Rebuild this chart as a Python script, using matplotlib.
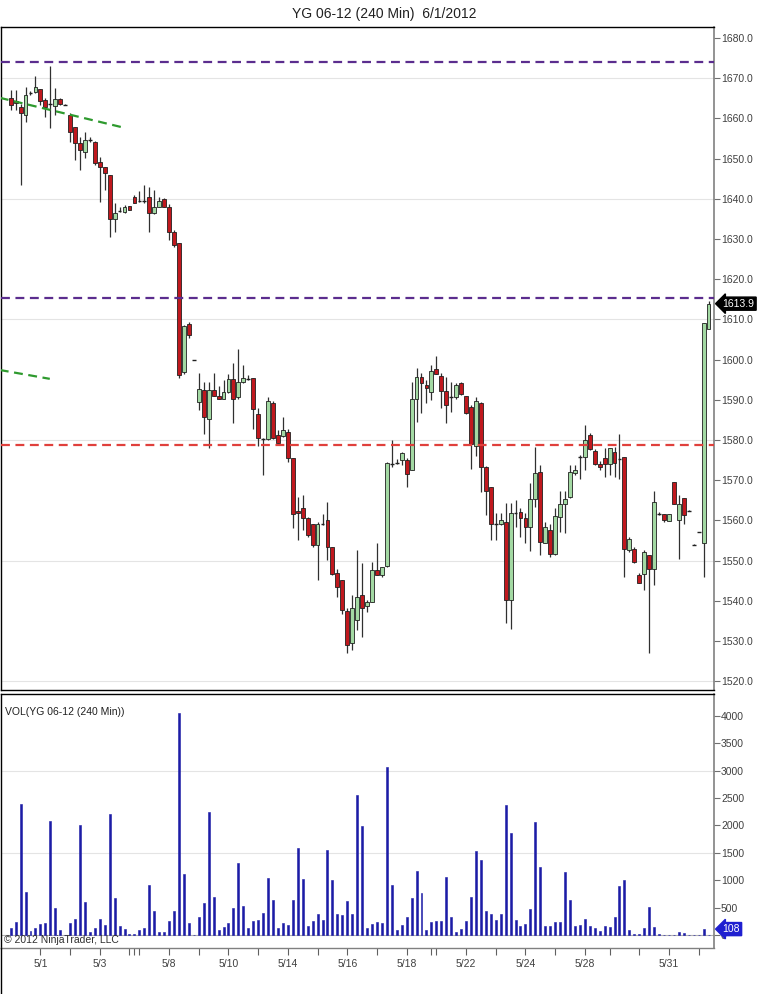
import matplotlib
matplotlib.use('Agg')
import matplotlib.pyplot as plt
from matplotlib.transforms import blended_transform_factory

plt.rcParams['font.family'] = ['Liberation Sans', 'DejaVu Sans']

title = 'YG 06-12 (240 Min)  6/1/2012'

# open, high, low, close for each 240 min bar
opens = [1665.0, 1664.2, 1662.9, 1660.8, 1666.2, 1666.6, 1667.3, 1664.6, 1663.6, 1663.1,
         1664.7, 1663.4, 1660.8, 1657.9, 1653.8, 1651.7, 1654.6, 1654.2, 1649.2, 1648.0,
         1645.9, 1634.9, 1637.0, 1636.8, 1638.2, 1640.5, 1639.5, 1639.4, 1640.4, 1636.4,
         1638.0, 1639.9, 1638.0, 1631.8, 1628.9, 1597.0, 1608.8, 1599.9, 1589.5, 1592.4,
         1585.1, 1592.4, 1590.9, 1590.3, 1592.0, 1595.1, 1590.6, 1594.3, 1595.2, 1595.3,
         1586.4, 1580.3, 1580.2, 1589.3, 1581.2, 1581.0, 1582.0, 1575.4, 1562.3, 1563.0,
         1560.7, 1559.1, 1553.8, 1559.2, 1560.1, 1553.4, 1546.8, 1545.1, 1537.5, 1529.4,
         1535.2, 1541.4, 1538.7, 1539.7, 1547.6, 1546.4, 1548.7, 1574.0, 1574.2, 1575.0,
         1575.0, 1572.5, 1590.3, 1595.6, 1593.7, 1592.0, 1597.6, 1595.9, 1592.2, 1590.6,
         1590.6, 1594.1, 1590.9, 1588.3, 1578.5, 1589.3, 1573.3, 1568.2, 1559.1, 1559.1,
         1559.7, 1540.2, 1561.9, 1562.1, 1560.5, 1558.4, 1565.2, 1572.1, 1554.4, 1557.6,
         1551.6, 1560.9, 1564.1, 1565.7, 1571.7, 1575.7, 1575.7, 1581.2, 1577.3, 1574.0,
         1575.4, 1574.0, 1577.1, 1575.2, 1575.7, 1552.6, 1553.0, 1546.4, 1546.6, 1551.4,
         1548.0, 1561.6, 1561.6, 1559.9, 1569.6, 1560.1, 1565.5, 1562.4, 1553.9, 1557.1,
         1554.3, 1607.5]
highs = [1667.1, 1667.1, 1663.6, 1667.7, 1666.9, 1670.5, 1667.3, 1665.0, 1672.9, 1667.5,
         1665.0, 1663.6, 1661.2, 1657.9, 1655.3, 1656.7, 1655.3, 1654.4, 1650.5, 1648.0,
         1646.0, 1639.0, 1638.0, 1638.4, 1638.3, 1640.9, 1641.8, 1643.4, 1642.9, 1642.2,
         1640.4, 1640.1, 1638.8, 1632.2, 1629.1, 1608.5, 1609.4, 1600.0, 1596.6, 1594.5,
         1594.5, 1596.6, 1593.3, 1594.9, 1596.4, 1599.2, 1602.5, 1598.6, 1596.1, 1595.3,
         1587.9, 1580.6, 1590.7, 1589.8, 1582.5, 1585.8, 1582.6, 1575.4, 1565.9, 1566.3,
         1560.9, 1559.2, 1559.7, 1561.7, 1564.6, 1553.4, 1548.0, 1545.1, 1538.1, 1541.4,
         1552.6, 1549.3, 1540.2, 1549.7, 1554.3, 1548.5, 1574.4, 1580.0, 1575.2, 1577.1,
         1575.4, 1594.5, 1597.8, 1596.6, 1594.9, 1598.6, 1600.9, 1596.6, 1595.7, 1594.5,
         1594.2, 1594.5, 1590.9, 1588.7, 1590.6, 1589.5, 1573.5, 1568.2, 1561.9, 1561.9,
         1564.2, 1564.2, 1565.0, 1563.0, 1561.9, 1569.2, 1578.2, 1573.8, 1559.7, 1559.2,
         1563.0, 1567.4, 1567.4, 1573.8, 1573.8, 1576.2, 1583.7, 1581.8, 1577.7, 1574.8,
         1577.9, 1577.9, 1578.3, 1581.6, 1575.7, 1555.9, 1553.4, 1546.8, 1552.6, 1551.4,
         1567.4, 1562.1, 1561.6, 1561.7, 1569.6, 1566.3, 1565.5, 1562.5, 1554.0, 1557.2,
         1609.0, 1614.6]
lows = [1662.1, 1662.1, 1643.4, 1659.2, 1665.8, 1666.2, 1663.3, 1660.3, 1657.7, 1660.8,
        1663.3, 1663.2, 1654.2, 1649.6, 1647.2, 1650.1, 1654.0, 1648.5, 1639.3, 1642.2,
        1630.6, 1631.8, 1636.8, 1636.4, 1637.1, 1638.9, 1639.2, 1638.9, 1631.8, 1636.2,
        1638.0, 1638.0, 1629.7, 1628.1, 1595.5, 1596.5, 1605.3, 1599.8, 1587.4, 1581.5,
        1577.9, 1590.9, 1590.3, 1590.2, 1591.8, 1584.1, 1590.3, 1594.1, 1595.0, 1582.6,
        1578.5, 1571.3, 1580.0, 1580.2, 1579.2, 1580.8, 1574.6, 1558.0, 1555.1, 1557.6,
        1555.9, 1553.4, 1545.1, 1558.8, 1550.1, 1546.4, 1541.0, 1536.8, 1526.9, 1527.7,
        1532.7, 1531.0, 1537.3, 1539.7, 1546.4, 1546.0, 1548.5, 1573.3, 1574.0, 1573.8,
        1568.2, 1572.5, 1584.5, 1586.6, 1589.1, 1589.9, 1596.4, 1587.9, 1584.3, 1587.0,
        1590.1, 1591.2, 1586.4, 1572.7, 1576.0, 1567.1, 1561.3, 1555.1, 1555.1, 1558.8,
        1534.4, 1533.1, 1558.4, 1555.9, 1554.3, 1552.4, 1563.4, 1551.4, 1554.3, 1550.9,
        1551.4, 1557.2, 1556.8, 1565.5, 1571.3, 1570.4, 1572.5, 1577.5, 1573.8, 1572.5,
        1570.7, 1571.3, 1570.7, 1570.4, 1546.0, 1552.2, 1549.3, 1544.3, 1542.8, 1526.9,
        1543.9, 1561.3, 1559.7, 1559.9, 1564.1, 1550.3, 1559.1, 1562.3, 1553.8, 1557.0,
        1546.0, 1607.5]
closes = [1663.3, 1663.8, 1661.3, 1665.8, 1666.3, 1667.7, 1664.2, 1662.9, 1663.8, 1664.7,
          1663.6, 1663.4, 1656.7, 1653.8, 1652.1, 1654.6, 1654.7, 1648.8, 1647.8, 1646.3,
          1634.9, 1636.5, 1637.2, 1638.0, 1637.2, 1639.0, 1639.5, 1639.3, 1636.5, 1638.0,
          1639.5, 1638.0, 1631.8, 1628.5, 1596.1, 1608.3, 1606.1, 1599.9, 1592.6, 1585.6,
          1592.4, 1590.9, 1590.3, 1592.0, 1595.1, 1590.3, 1594.3, 1595.3, 1595.3, 1587.6,
          1580.6, 1580.4, 1589.8, 1580.4, 1579.2, 1582.5, 1575.4, 1561.7, 1561.9, 1560.7,
          1556.3, 1553.8, 1559.1, 1559.3, 1553.4, 1546.6, 1543.5, 1537.7, 1529.0, 1538.1,
          1541.0, 1538.1, 1539.7, 1547.6, 1546.4, 1548.5, 1574.2, 1574.1, 1574.3, 1576.7,
          1571.5, 1590.1, 1595.6, 1594.2, 1592.8, 1597.2, 1596.4, 1592.2, 1588.7, 1590.7,
          1593.7, 1591.4, 1586.6, 1579.0, 1589.8, 1573.3, 1567.4, 1559.1, 1559.2, 1560.2,
          1540.3, 1561.9, 1562.0, 1560.5, 1558.4, 1565.2, 1571.8, 1554.7, 1558.3, 1551.6,
          1561.1, 1564.1, 1565.2, 1572.1, 1572.5, 1575.8, 1580.0, 1577.7, 1574.0, 1573.2,
          1574.0, 1577.9, 1574.2, 1575.3, 1553.0, 1555.3, 1549.7, 1544.5, 1552.2, 1548.0,
          1564.6, 1561.7, 1560.2, 1561.5, 1564.1, 1564.1, 1561.3, 1562.4, 1553.9, 1557.1,
          1609.0, 1613.9]
volume = [122, 232, 2400, 793, 73, 134, 195, 213, 2074, 500, 85, 0, 226, 300, 2007, 610,
          61, 122, 300, 177, 2208, 683, 159, 104, 10, 24, 85, 134, 915, 439, 61, 61, 250,
          445, 4050, 1122, 213, 0, 335, 592, 2245, 702, 85, 152, 213, 500, 1318, 537, 122,
          256, 280, 409, 1049, 634, 134, 213, 189, 647, 1592, 1025, 159, 250, 378, 268,
          1549, 1006, 390, 372, 628, 390, 2562, 1989, 134, 207, 244, 213, 3068, 915, 85,
          189, 335, 683, 1165, 775, 98, 232, 256, 262, 1061, 335, 61, 116, 250, 695, 1531,
          1366, 445, 390, 280, 390, 2379, 1854, 268, 171, 207, 482, 2056, 1244, 171, 171,
          244, 244, 1153, 647, 159, 189, 300, 159, 134, 79, 159, 152, 335, 897, 1006, 85,
          24, 24, 122, 512, 152, 24, 8, 8, 8, 49, 30, 0, 0, 0, 115, 0]
last_volume = 108

# date axis (bar index of each session break)
tick_pos = [6, 12, 18, 24, 25, 26, 32, 38, 44, 50, 56, 62, 68, 74, 80, 85, 86, 92, 98,
            104, 110, 116, 121, 127, 133, 139]
tick_text = {6: '5/1', 18: '5/3', 32: '5/8', 44: '5/10', 56: '5/14', 68: '5/16',
             80: '5/18', 92: '5/22', 104: '5/24', 116: '5/28', 133: '5/31'}

purple_levels = [1674.0, 1615.2]
red_level = 1578.7
trend1 = ([-2.2, 23.1], [1665.1, 1657.6])
trend2 = ([-2.2, 7.9], [1597.4, 1595.2])

up_col = '#a3d9a3'
down_col = '#c0181e'
vol_col = '#1c1ca6'
txt_col = '#404040'

fig = plt.figure(figsize=(7.68, 9.94), dpi=100)
ax = fig.add_axes([0.0013, 0.3058, 0.9284, 0.667])
axv = fig.add_axes([0.0013, 0.0463, 0.9284, 0.2555])

n = len(opens)
x = list(range(n))

# candles
ax.vlines(x, lows, highs, color='#303030', lw=0.9, zorder=2)
for i in range(n):
    o, c = opens[i], closes[i]
    col = up_col if c >= o else down_col
    h = abs(c - o)
    if h < 0.25:
        ax.hlines(o, i - 0.38, i + 0.38, color='#202020', lw=1.0, zorder=3)
    else:
        ax.bar(i, h, bottom=min(o, c), width=0.78, color=col,
               edgecolor='#202020', linewidth=0.6, zorder=3)

for lv in purple_levels:
    ax.axhline(lv, color='#5b2d8e', lw=1.6, ls=(0, (4, 2.5)), zorder=4)
ax.axhline(red_level, color='#e0403c', lw=1.6, ls=(0, (4, 2.5)), zorder=4)
ax.plot(trend1[0], trend1[1], color='#2e9a2e', lw=1.6, ls=(0, (4, 2.5)), zorder=4)
ax.plot(trend2[0], trend2[1], color='#2e9a2e', lw=1.6, ls=(0, (4, 2.5)), zorder=4)

ax.set_xlim(-1.96, 142.1)
ax.set_ylim(1517.8, 1682.7)
ax.set_yticks([1520 + 10 * k for k in range(17)])
ax.set_yticklabels(['%.1f' % (1520 + 10 * k) for k in range(17)])
ax.yaxis.tick_right()
ax.set_xticks([])
for y in [1520, 1550, 1580, 1610, 1640, 1670]:
    ax.axhline(y, color='#e4e4e4', lw=0.8, zorder=0)

# volume
axv.bar(x, volume, width=0.4, color=vol_col, edgecolor=vol_col, linewidth=0.4, zorder=2)
axv.axhline(0, color='#b0b0b0', lw=0.8, zorder=1)
for y in [1500, 3000]:
    axv.axhline(y, color='#e4e4e4', lw=0.8, zorder=0)
axv.set_xlim(-1.96, 142.1)
axv.set_ylim(-237, 4400)
axv.set_yticks(range(0, 4001, 500))
axv.yaxis.tick_right()
axv.set_xticks(tick_pos)
axv.set_xticklabels([tick_text.get(p, '') for p in tick_pos])

for a in (ax, axv):
    a.tick_params(axis='y', direction='out', length=4, width=0.8, colors='#707070',
                  labelcolor=txt_col, labelsize=7.5, pad=1)
    a.tick_params(axis='x', direction='out', length=5, width=0.8, colors='#606060',
                  labelcolor=txt_col, labelsize=7.5, pad=3)
    for s in ('left', 'top', 'bottom'):
        a.spines[s].set_color('black')
        a.spines[s].set_linewidth(1.0)
    a.spines['right'].set_color('#808080')
    a.spines['right'].set_linewidth(1.2)
axv.spines['bottom'].set_color('#808080')

# last value markers
tr = blended_transform_factory(ax.transAxes, ax.transData)
ax.text(1.012, closes[-1], '%.1f' % closes[-1], transform=tr, color='white', fontsize=7.5,
        ha='left', va='center', zorder=6,
        bbox=dict(boxstyle='larrow,pad=0.15', fc='black', ec='black'))
trv = blended_transform_factory(axv.transAxes, axv.transData)
axv.text(1.012, last_volume, str(last_volume), transform=trv, color='white', fontsize=7.5,
         ha='left', va='center', zorder=6,
         bbox=dict(boxstyle='larrow,pad=0.15', fc='#1f1fd0', ec='#1f1fd0'))

axv.text(0.005, 0.93, 'VOL(YG 06-12 (240 Min))', transform=axv.transAxes,
         fontsize=7.5, color='#202020', ha='left', va='center')
axv.text(0.004, 0.03, '\u00a9 2012 NinjaTrader, LLC', transform=axv.transAxes,
         fontsize=7.5, color='#303030', ha='left', va='center')

fig.text(0.5, 1 - 14 / 994, title, ha='center', va='center', fontsize=10, color='#202020')
fig.add_artist(plt.Line2D([0.0013, 0.0013], [0.0, 0.0463], color='black', lw=1.0))

fig.savefig('out.png', dpi=100)
